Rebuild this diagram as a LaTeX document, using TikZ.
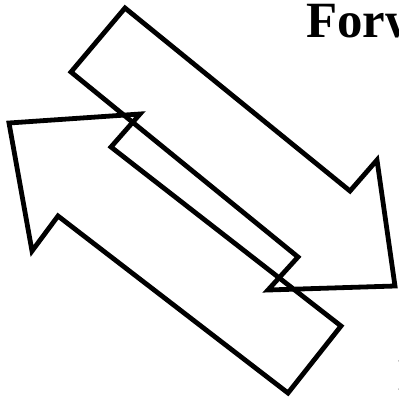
\documentclass[tikz,border=0pt]{standalone}
\usepackage{fontspec}
\setmainfont{Liberation Serif}
\begin{document}
\begin{tikzpicture}[x=1bp,y=-1bp,
  arrowshape/.style={draw=black,line width=4.8bp,line join=miter},
  bigtext/.style={inner sep=0pt,anchor=base west,font=\fontsize{51}{60}\selectfont\bfseries}]
\useasboundingbox (0,0) rectangle (399,400);
% down-right arrow
\draw[arrowshape] (125,8) -- (350,191) -- (377,160) -- (395,286) -- (268,290) -- (298,257) -- (71,72) -- cycle;
% up-left arrow
\draw[arrowshape] (9,123) -- (140,114) -- (111,147) -- (341,326) -- (288,393) -- (58,216) -- (32,251) -- cycle;
\node[bigtext] (fw) at (306,37) {Forward};
\node[bigtext,font=\fontsize{46}{54}\selectfont\bfseries] (bw) at (398,390) {Backward};
\end{tikzpicture}
\end{document}
